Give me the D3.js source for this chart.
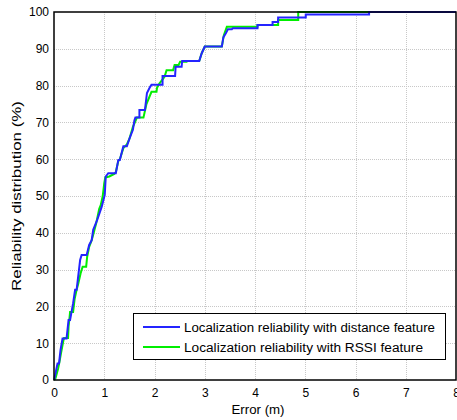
<!DOCTYPE html>
<html>
<head>
<meta charset="utf-8">
<script src="https://cdn.jsdelivr.net/npm/d3@7/dist/d3.min.js"></script>
<style>
  html, body { margin: 0; padding: 0; background: #fff; }
  svg { display: block; font-family: "Liberation Sans", Arial, sans-serif; }
</style>
</head>
<body>
<svg id="chart" width="457" height="420"></svg>
<script>
// ---- data ----
const xTicks = [0, 1, 2, 3, 4, 5, 6, 7, 8];
const yTicks = [0, 10, 20, 30, 40, 50, 60, 70, 80, 90, 100];
const seriesNames = [
  "Localization reliability with distance feature",
  "Localization reliability with RSSI feature"
];
const seriesColors = ["#2424ff", "#00ee00"];

// distance feature: [error (m), reliability (%)]
const distanceErr = [0, 0.01, 0.07, 0.1, 0.13, 0.17, 0.25, 0.29, 0.32, 0.38, 0.42, 0.45, 0.52, 0.55, 0.65, 0.7, 0.75, 0.78, 0.86, 0.95, 1.01, 1.03, 1.08, 1.23, 1.28, 1.31, 1.38, 1.45, 1.5, 1.57, 1.6, 1.62, 1.70, 1.70, 1.81, 1.85, 1.91, 1.94, 2.16, 2.16, 2.41, 2.42, 2.54, 2.55, 2.89, 2.94, 3.0, 3.34, 3.37, 3.42, 3.46, 3.54, 3.56, 4.05, 4.05, 4.35, 4.35, 4.46, 4.46, 5.01, 5.01, 6.27, 6.27, 8];
const distanceRel = [0, 0.5, 4.5, 4.5, 8.2, 11.3, 11.3, 16.3, 16.3, 20.8, 24.5, 24.5, 32.6, 34, 34, 36.7, 38, 40.8, 43.5, 47.1, 50.3, 55.3, 56.2, 56.2, 59.8, 59.8, 63.5, 63.5, 65.5, 68, 70.5, 71.3, 71.3, 73.4, 73.4, 78, 79.6, 80.2, 80.2, 82.6, 82.6, 85.1, 85.1, 86.7, 86.7, 88.8, 90.6, 90.6, 93.1, 94.2, 95.3, 95.3, 95.6, 95.6, 96.5, 96.5, 97.3, 97.3, 98.5, 98.5, 99.3, 99.3, 100, 100];

// RSSI feature
const rssiErr = [0, 0.03, 0.08, 0.11, 0.14, 0.19, 0.2, 0.28, 0.29, 0.31, 0.32, 0.38, 0.41, 0.45, 0.48, 0.53, 0.57, 0.64, 0.66, 0.70, 0.75, 0.78, 0.84, 0.9, 0.93, 0.97, 1.0, 1.02, 1.1, 1.2, 1.23, 1.28, 1.31, 1.38, 1.45, 1.5, 1.57, 1.61, 1.65, 1.78, 1.84, 1.94, 2.04, 2.05, 2.1, 2.2, 2.24, 2.37, 2.4, 2.48, 2.51, 2.64, 2.65, 2.89, 2.94, 3.0, 3.34, 3.38, 3.44, 4.05, 4.05, 4.46, 4.46, 4.86, 4.86, 8];
const rssiRel = [0, 0.5, 3, 5, 7.3, 10.9, 11.4, 11.4, 14.5, 17, 18.5, 18.5, 22, 24.5, 26, 29, 30.8, 30.8, 33.5, 36.2, 38, 39.5, 42.6, 46.5, 47.5, 50, 53.5, 55, 55.3, 56, 56.5, 59.5, 60, 63, 64, 65.5, 68.8, 70, 71.3, 71.3, 75, 78.3, 78.3, 79.4, 80.6, 82.4, 84.2, 84.2, 85.6, 85.6, 86.5, 86.5, 86.7, 86.7, 88.8, 90.6, 90.6, 93.7, 96, 96, 96.5, 96.5, 97.8, 97.8, 100, 100];

// ---- layout ----
const svg = d3.select("#chart");
const L = 54, R = 456, T = 12, B = 380;
const x = d3.scaleLinear().domain([0, 8]).range([L, R]);
const y = d3.scaleLinear().domain([0, 100]).range([B, T]);

// grid
const grid = svg.append("g").attr("stroke", "#c8c8c8").attr("stroke-width", 1).attr("stroke-dasharray", "1,1");
grid.selectAll(".gx").data(xTicks.slice(1, -1)).enter().append("line")
  .attr("x1", d => Math.round(x(d)) + 0.5).attr("x2", d => Math.round(x(d)) + 0.5)
  .attr("y1", T).attr("y2", B);
grid.selectAll(".gy").data(yTicks.slice(1, -1)).enter().append("line")
  .attr("y1", d => Math.round(y(d)) + 0.5).attr("y2", d => Math.round(y(d)) + 0.5)
  .attr("x1", L).attr("x2", R);

// series
const line = d3.line().x(d => x(d[0])).y(d => y(d[1]));
const rssiPts = rssiErr.map((e, i) => [e, rssiRel[i]]);
const distPts = distanceErr.map((e, i) => [e, distanceRel[i]]);
svg.append("path").attr("d", line(rssiPts)).attr("fill", "none")
  .attr("stroke", seriesColors[1]).attr("stroke-width", 2);
svg.append("path").attr("d", line(distPts)).attr("fill", "none")
  .attr("stroke", seriesColors[0]).attr("stroke-width", 2);

// axes box
svg.append("rect").attr("x", L).attr("y", T).attr("width", R - L).attr("height", B - T)
  .attr("fill", "none").attr("stroke", "#000").attr("stroke-width", 1.5);

// axes with d3
const xAxis = d3.axisBottom(x).tickValues(xTicks).tickSize(0).tickPadding(8).tickFormat(d3.format("d"));
const yAxis = d3.axisLeft(y).tickValues(yTicks).tickSize(0).tickPadding(5).tickFormat(d3.format("d"));
const gx = svg.append("g").attr("transform", `translate(0,${B})`).call(xAxis);
const gy = svg.append("g").attr("transform", `translate(${L},0)`).call(yAxis);
[gx, gy].forEach(g => {
  g.select(".domain").remove();
  g.selectAll("text").attr("font-size", 12).attr("fill", "#000")
    .attr("font-family", "'Liberation Sans', Arial, sans-serif");
});

// axis labels
svg.append("text").attr("x", 258).attr("y", 414).attr("text-anchor", "middle")
  .attr("font-size", 12).attr("textLength", 53).attr("lengthAdjust", "spacingAndGlyphs").text("Error (m)");
svg.append("text").attr("transform", `translate(21,${(T + B) / 2}) rotate(-90)`)
  .attr("text-anchor", "middle").attr("font-size", 12)
  .attr("textLength", 190).attr("lengthAdjust", "spacingAndGlyphs").text("Reliability distribution (%)");

// legend
const legendLens = [251, 239];
const lg = svg.append("g");
lg.append("rect").attr("x", 133.5).attr("y", 313.5).attr("width", 312).attr("height", 46)
  .attr("fill", "#fff").attr("stroke", "#000").attr("stroke-width", 1);
seriesNames.forEach((name, i) => {
  const yy = 327 + i * 20;
  lg.append("line").attr("x1", 143).attr("x2", 180).attr("y1", yy).attr("y2", yy)
    .attr("stroke", seriesColors[i]).attr("stroke-width", 2);
  lg.append("text").attr("x", 184).attr("y", yy + 4.5).attr("font-size", 12)
    .attr("textLength", legendLens[i]).attr("lengthAdjust", "spacingAndGlyphs").text(name);
});
</script>
</body>
</html>
